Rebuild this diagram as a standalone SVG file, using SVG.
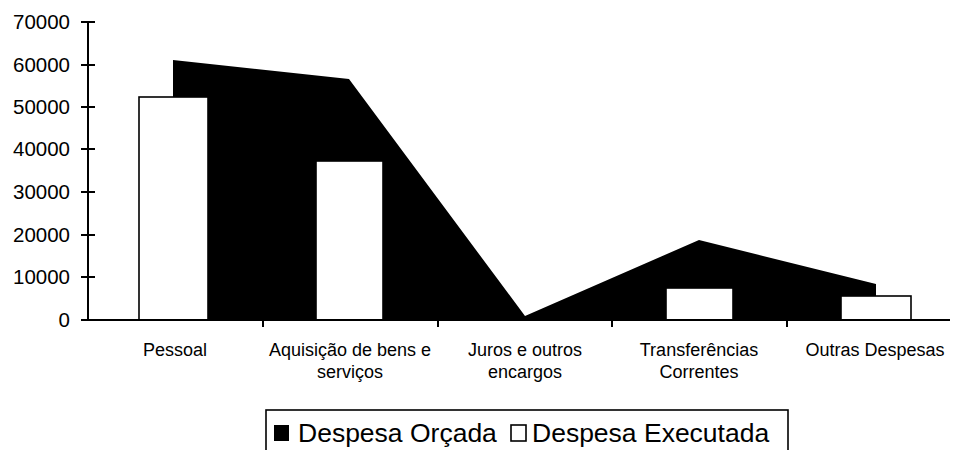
<svg xmlns="http://www.w3.org/2000/svg" width="953" height="450" viewBox="0 0 953 450">
<style>
.ax{stroke:#000;stroke-width:2;fill:none}
.tk{stroke:#000;stroke-width:2}
.yl{font-family:"Liberation Sans",Arial,sans-serif;font-size:20.5px;text-anchor:end;fill:#000}
.cl{font-family:"Liberation Sans",Arial,sans-serif;font-size:18px;text-anchor:middle;fill:#000}
.lg{font-family:"Liberation Sans",Arial,sans-serif;font-size:26.5px;fill:#000}
.bar{fill:#fff;stroke:#000;stroke-width:1.6}
</style>
<rect width="953" height="450" fill="#fff"/>
<g id="area-orcada">
<polygon points="173,320 173,60 349,79 525,316 699,240 876,284 876,320" fill="#000"/>
</g>
<g id="bars-executada">
<rect id="bar-pessoal" class="bar" x="139" y="97" width="69" height="223"/>
<rect id="bar-aquisicao" class="bar" x="316" y="161" width="67" height="159"/>
<rect id="bar-transferencias" class="bar" x="666" y="288" width="67" height="32"/>
<rect id="bar-outras" class="bar" x="841" y="296" width="70" height="24"/>
</g>
<g id="axes">
<line class="ax" x1="88" y1="22" x2="88" y2="321"/>
<line class="ax" x1="87" y1="320" x2="950" y2="320"/>
<g class="tk">
<line x1="81" y1="22" x2="95" y2="22"/>
<line x1="81" y1="65" x2="95" y2="65"/>
<line x1="81" y1="107" x2="95" y2="107"/>
<line x1="81" y1="149" x2="95" y2="149"/>
<line x1="81" y1="192" x2="95" y2="192"/>
<line x1="81" y1="235" x2="95" y2="235"/>
<line x1="81" y1="277" x2="95" y2="277"/>
<line x1="81" y1="320" x2="95" y2="320"/>
<line x1="263" y1="320" x2="263" y2="327"/>
<line x1="438" y1="320" x2="438" y2="327"/>
<line x1="612" y1="320" x2="612" y2="327"/>
<line x1="787" y1="320" x2="787" y2="327"/>
</g>
<text class="yl" x="70" y="29">70000</text>
<text class="yl" x="70" y="72">60000</text>
<text class="yl" x="70" y="114">50000</text>
<text class="yl" x="70" y="156">40000</text>
<text class="yl" x="70" y="199">30000</text>
<text class="yl" x="70" y="242">20000</text>
<text class="yl" x="70" y="284">10000</text>
<text class="yl" x="70" y="327">0</text>
</g>
<g id="category-labels">
<text class="cl" x="175" y="356">Pessoal</text>
<text class="cl" x="350" y="356">Aquisição de bens e</text>
<text class="cl" x="350" y="378">serviços</text>
<text class="cl" x="525" y="356">Juros e outros</text>
<text class="cl" x="525" y="378">encargos</text>
<text class="cl" x="699" y="356">Transferências</text>
<text class="cl" x="699" y="378">Correntes</text>
<text class="cl" x="875" y="356">Outras Despesas</text>
</g>
<g id="legend">
<rect x="266" y="410" width="522" height="60" fill="#fff" stroke="#000" stroke-width="1.6"/>
<rect x="274" y="425" width="15" height="16" fill="#000"/>
<text class="lg" x="298" y="442">Despesa Orçada</text>
<rect x="511" y="425" width="15" height="16" fill="#fff" stroke="#000" stroke-width="1.6"/>
<text class="lg" x="532" y="442">Despesa Executada</text>
</g>
</svg>
